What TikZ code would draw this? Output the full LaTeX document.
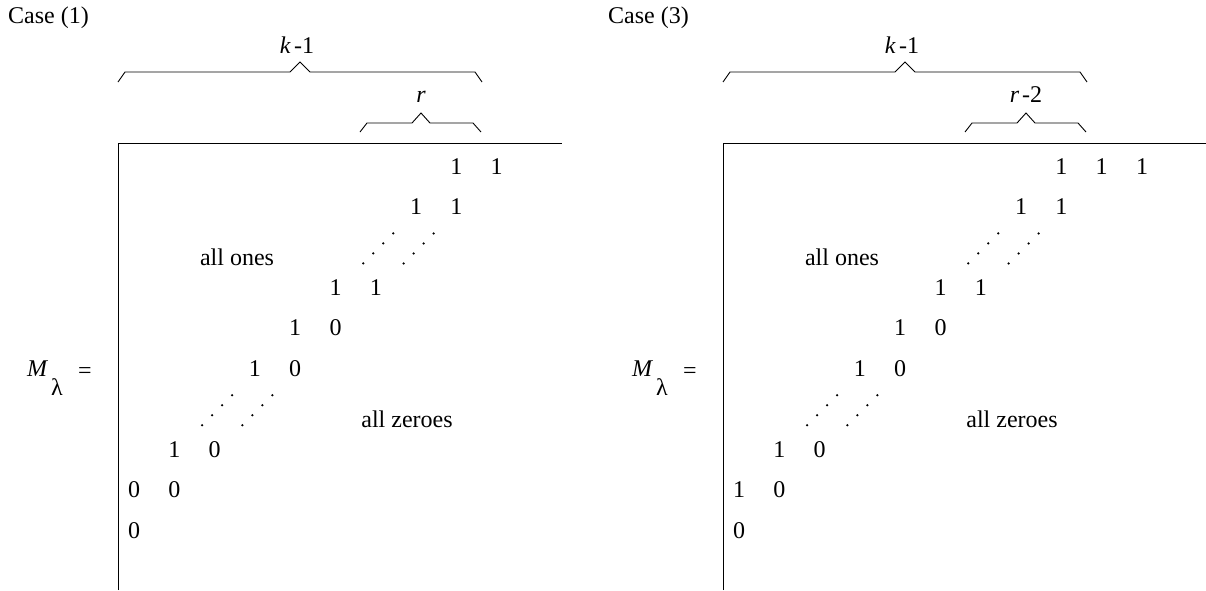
\documentclass[tikz,border=0pt]{standalone}
\usepackage{fontspec}
\setmainfont{Liberation Serif}
\begin{document}
\begin{tikzpicture}[x=1pt,y=-1pt,
  txt/.style={inner sep=0pt, font=\fontsize{24}{28}\selectfont},
  ent/.style={txt, anchor=base},
  frameline/.style={line width=1pt},
  bracel/.style={line width=0.9pt, line join=miter},
  dotp/.style={fill=black}]
\useasboundingbox (0,0) rectangle (1206,590);

% ---------- panel titles
\node[txt, anchor=base west] (case1) at (8,23) {Case (1)};
\node[txt, anchor=base west] (case3) at (608,23) {Case (3)};

% ---------- both panels
\foreach \p/\dx/\blab in {A/0/{\itshape r}, B/605/{\itshape r}\hspace{3pt}-2} {
  \begin{scope}[xshift=\dx]
    % frame
    \ifnum\dx=0
      \draw[frameline] (118,590) -- (118,143) -- (562,143);
    \else
      \draw[frameline] (118,590) -- (118,143) -- (601,143);
    \fi
    % braces
    \draw[bracel] (118,82) -- (125,72) -- (290,72) -- (300,62) -- (310,72) -- (475,72) -- (482,82);
    \draw[bracel] (360,132) -- (367,123) -- (412,123) -- (421,113) -- (430,123) -- (473,123) -- (481,132);
    \node[ent] (\p-k) at (297,53) {{\itshape k}\hspace{3.5pt}-1};
    \node[ent] (\p-r) at (421,102) {\blab};
    % M_lambda =
    \node[txt, anchor=base west] (\p-M) at (27,376) {\itshape M};
    \node[txt, anchor=base west] (\p-lam) at (51,395) {λ};
    \node[txt, anchor=base west] (\p-eq) at (78,378) {=};
    % region labels
    \node[ent] (\p-ones) at (237,265) {all ones};
    \node[ent] (\p-zeros) at (407,427) {all zeroes};
    % dot clusters
    \foreach \r/\c in {2/6, 2/7, 6/2, 6/3} {
      \pgfmathsetmacro\cx{136.5+40.3*\c}
      \pgfmathsetmacro\cy{167.5+40.45*\r}
      \foreach \o in {-15,-5,5,15}
        \fill[dotp] (\cx+\o,\cy-\o) circle (1.25);
    }
  \end{scope}
}

% ---------- entries, panel 1
\foreach \r/\c/\v in {0/8/1, 0/9/1, 1/7/1, 1/8/1, 3/5/1, 3/6/1, 4/4/1, 4/5/0,
                      5/3/1, 5/4/0, 7/1/1, 7/2/0, 8/0/0, 8/1/0, 9/0/0} {
  \node[ent] (A-\r-\c) at ({134+40.3*\c},{174+40.45*\r}) {\v};
}
% ---------- entries, panel 2
\foreach \r/\c/\v in {0/8/1, 0/9/1, 0/10/1, 1/7/1, 1/8/1, 3/5/1, 3/6/1, 4/4/1, 4/5/0,
                      5/3/1, 5/4/0, 7/1/1, 7/2/0, 8/0/1, 8/1/0, 9/0/0} {
  \node[ent] (B-\r-\c) at ({739+40.3*\c},{174+40.45*\r}) {\v};
}
\end{tikzpicture}
\end{document}
